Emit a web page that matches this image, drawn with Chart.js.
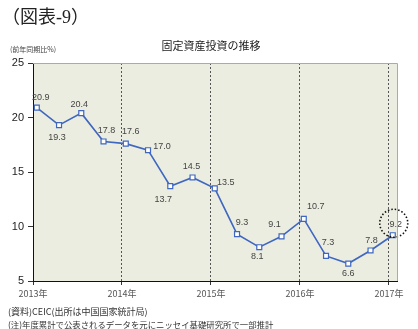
<!DOCTYPE html>
<html>
<head>
<meta charset="utf-8">
<script src="https://cdn.jsdelivr.net/npm/chart.js@4"></script>
<style>
  body { margin: 0; background: #fff; font-family: "Noto Sans CJK JP", sans-serif; }
  #wrap { position: relative; width: 418px; height: 329px; }
  #c { position: absolute; left: 0; top: 0; }
  .t { position: absolute; white-space: nowrap; color: #222; }
  #fig { left: 2px; top: 2px; font-size: 18px; font-family: "Liberation Serif", "Noto Sans CJK JP", serif; }
  #title { left: 0; width: 418px; text-align: center; top: 37px; font-size: 11px; padding-left: 2px; }
  #unit { left: 10px; top: 44px; font-size: 7px; color: #444; }
  .note { left: 8px; color: #333; }
</style>
</head>
<body>
<div id="wrap">
  <canvas id="c" width="418" height="329"></canvas>
  <div class="t" id="fig">（図表-9）</div>
  <div class="t" id="title">固定資産投資の推移</div>
  <div class="t" id="unit">(前年同期比%)</div>
  <div class="t note" style="top:305px;font-size:9px">(資料)CEIC(出所は中国国家統計局)</div>
  <div class="t note" style="top:318px;font-size:8.4px">(注)年度累計で公表されるデータを元にニッセイ基礎研究所で一部推計</div>
</div>
<script>
// 四半期ごとの伸び率(前年同期比、%)
const values = [20.9, 19.3, 20.4, 17.8, 17.6, 17.0, 13.7, 14.5, 13.5, 9.3, 8.1, 9.1, 10.7, 7.3, 6.6, 7.8, 9.2];
const yearLabels = ['2013年', '2014年', '2015年', '2016年', '2017年'];
const yTicks = [5, 10, 15, 20, 25];

// ラベルの位置ずらし [dx, dy]
const labelOffsets = [
  [4, -10], [-2, 12], [-2, -9], [3, -11], [5, -12], [14, -4], [-7, 13], [-1, -11], [11, -6],
  [5, -12], [-2, 9], [-7, -12], [12, -12], [2, -13], [0, 10], [1, -10], [3, -11]
];

const points = values.map((v, i) => ({ x: i, y: v }));
const yearPos = yearLabels.map((_, i) => i * 4 - 0.17);

const plotDeco = {
  id: 'plotDeco',
  beforeDraw(chart) {
    const { ctx, chartArea: a } = chart;
    ctx.save();
    ctx.fillStyle = '#EBEDE0';
    ctx.fillRect(a.left, a.top, a.right - a.left, a.bottom - a.top);
    ctx.restore();
  },
  afterDraw(chart) {
    const { ctx, chartArea: a } = chart;
    ctx.save();
    ctx.strokeStyle = '#aaa';
    ctx.lineWidth = 1;
    ctx.beginPath();
    ctx.moveTo(a.left, a.top + 0.5);
    ctx.lineTo(a.right + 0.5, a.top + 0.5);
    ctx.lineTo(a.right + 0.5, a.bottom);
    ctx.stroke();
    ctx.restore();
  },
  afterDatasetsDraw(chart) {
    const { ctx } = chart;
    const meta = chart.getDatasetMeta(0);
    ctx.save();
    ctx.font = '9px "Liberation Sans", sans-serif';
    ctx.fillStyle = '#444';
    ctx.textAlign = 'center';
    ctx.textBaseline = 'middle';
    meta.data.forEach((el, i) => {
      const [dx, dy] = labelOffsets[i];
      ctx.fillText(values[i].toFixed(1), el.x + dx, el.y + dy);
    });
    // 直近の値を点線の円で囲む
    const last = meta.data[meta.data.length - 1];
    ctx.strokeStyle = '#111';
    ctx.lineWidth = 1.6;
    ctx.setLineDash([1.5, 2]);
    ctx.beginPath();
    ctx.arc(last.x + 1, last.y - 12, 14, 0, Math.PI * 2);
    ctx.stroke();
    ctx.restore();
  }
};

new Chart(document.getElementById('c'), {
  type: 'line',
  data: {
    datasets: [{
      data: points,
      borderColor: '#3F66C0',
      borderWidth: 1.6,
      pointStyle: 'rect',
      pointRadius: 3.5,
      pointBackgroundColor: '#fff',
      pointBorderColor: '#3F66C0',
      pointBorderWidth: 1.2,
      tension: 0
    }]
  },
  options: {
    responsive: false,
    animation: false,
    layout: { padding: { left: 0, top: 63, right: 21, bottom: 0 } },
    plugins: { legend: { display: false }, tooltip: { enabled: false } },
    scales: {
      x: {
        type: 'linear',
        min: -0.17,
        max: 16.19,
        afterBuildTicks: s => { s.ticks = yearPos.map(v => ({ value: v })); },
        afterFit: s => { s.height = 48; },
        ticks: {
          callback: (v, i) => yearLabels[i],
          color: '#555',
          font: { size: 9, family: '"Noto Sans CJK JP", sans-serif' },
          padding: 3,
          maxRotation: 0,
          autoSkip: false
        },
        // 年の区切りは点線
        grid: { color: '#555', tickColor: '#333', tickLength: 4, lineWidth: 1 },
        border: { color: '#111', width: 1, dash: [2, 2] }
      },
      y: {
        min: 5,
        max: 25,
        afterBuildTicks: s => { s.ticks = yTicks.map(v => ({ value: v })); },
        afterFit: s => { s.width = 33; },
        ticks: {
          color: '#222',
          font: { size: 11, family: '"Liberation Sans", sans-serif' },
          padding: 4
        },
        grid: { drawOnChartArea: false, tickLength: 5, tickColor: '#333' },
        border: { color: '#111', width: 1 }
      }
    }
  },
  plugins: [plotDeco]
});
</script>
</body>
</html>
